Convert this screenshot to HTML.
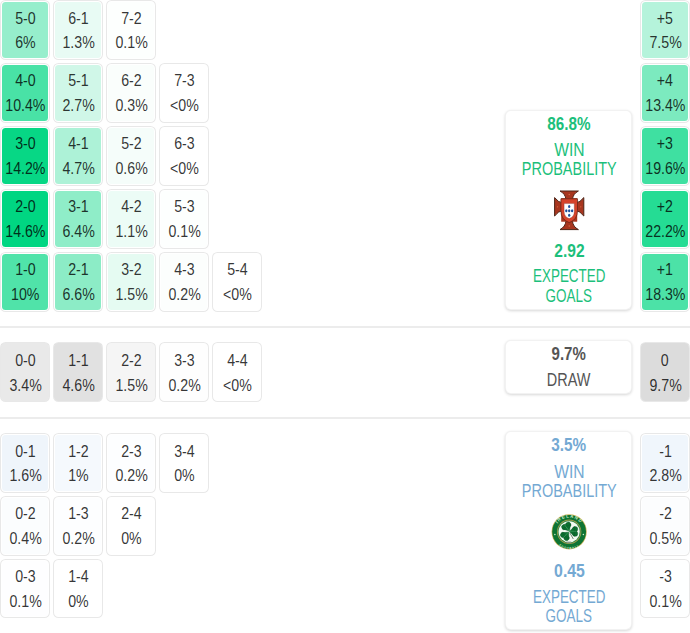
<!DOCTYPE html>
<html><head><meta charset="utf-8"><style>
html,body{margin:0;padding:0;background:#fff;}
body{width:690px;height:633px;position:relative;overflow:hidden;font-family:"Liberation Sans",sans-serif;}
.c{position:absolute;box-sizing:border-box;width:50px;height:59.8px;border:1px solid rgba(0,0,0,0.09);border-radius:5.5px;padding:1px;background-clip:content-box !important;}
.c .t{margin-top:0}
.t{position:absolute;left:0;right:0;text-align:center;white-space:nowrap;font-size:17.2px;line-height:20px;height:20px;color:rgba(0,0,0,0.8);}
.t span{display:inline-block;transform:scaleX(0.825);}
.sep{position:absolute;left:0;width:690px;height:1.5px;background:#ececec;}
.box{position:absolute;box-sizing:border-box;background:#fff;border-radius:6px;border:1px solid rgba(0,0,0,0.05);box-shadow:0 1px 3px rgba(0,0,0,0.16);}
.bt{position:absolute;text-align:center;white-space:nowrap;line-height:20px;height:20px;}
.bt span{display:inline-block;}
</style></head><body>
<div class="c" style="left:0.30px;top:-0.20px;background:rgb(150,238,204)"><div class="t" style="top:6.7px"><span>5-0</span></div><div class="t" style="top:31.3px"><span>6%</span></div></div>
<div class="c" style="left:53.25px;top:-0.20px;background:rgb(232,251,244)"><div class="t" style="top:6.7px"><span>6-1</span></div><div class="t" style="top:31.3px"><span>1.3%</span></div></div>
<div class="c" style="left:106.20px;top:-0.20px;background:rgb(253,255,254)"><div class="t" style="top:6.7px"><span>7-2</span></div><div class="t" style="top:31.3px"><span>0.1%</span></div></div>
<div class="c" style="left:0.30px;top:62.80px;background:rgb(73,226,166)"><div class="t" style="top:6.7px"><span>4-0</span></div><div class="t" style="top:31.3px"><span>10.4%</span></div></div>
<div class="c" style="left:53.25px;top:62.80px;background:rgb(208,247,232)"><div class="t" style="top:6.7px"><span>5-1</span></div><div class="t" style="top:31.3px"><span>2.7%</span></div></div>
<div class="c" style="left:106.20px;top:62.80px;background:rgb(250,254,252)"><div class="t" style="top:6.7px"><span>6-2</span></div><div class="t" style="top:31.3px"><span>0.3%</span></div></div>
<div class="c" style="left:159.15px;top:62.80px;background:rgb(255,255,255)"><div class="t" style="top:6.7px"><span>7-3</span></div><div class="t" style="top:31.3px"><span>&lt;0%</span></div></div>
<div class="c" style="left:0.30px;top:125.80px;background:rgb(7,215,133)"><div class="t" style="top:6.7px"><span>3-0</span></div><div class="t" style="top:31.3px"><span>14.2%</span></div></div>
<div class="c" style="left:53.25px;top:125.80px;background:rgb(173,242,215)"><div class="t" style="top:6.7px"><span>4-1</span></div><div class="t" style="top:31.3px"><span>4.7%</span></div></div>
<div class="c" style="left:106.20px;top:125.80px;background:rgb(245,253,250)"><div class="t" style="top:6.7px"><span>5-2</span></div><div class="t" style="top:31.3px"><span>0.6%</span></div></div>
<div class="c" style="left:159.15px;top:125.80px;background:rgb(255,255,255)"><div class="t" style="top:6.7px"><span>6-3</span></div><div class="t" style="top:31.3px"><span>&lt;0%</span></div></div>
<div class="c" style="left:0.30px;top:188.80px;background:rgb(0,214,130)"><div class="t" style="top:6.7px"><span>2-0</span></div><div class="t" style="top:31.3px"><span>14.6%</span></div></div>
<div class="c" style="left:53.25px;top:188.80px;background:rgb(143,237,200)"><div class="t" style="top:6.7px"><span>3-1</span></div><div class="t" style="top:31.3px"><span>6.4%</span></div></div>
<div class="c" style="left:106.20px;top:188.80px;background:rgb(236,252,246)"><div class="t" style="top:6.7px"><span>4-2</span></div><div class="t" style="top:31.3px"><span>1.1%</span></div></div>
<div class="c" style="left:159.15px;top:188.80px;background:rgb(253,255,254)"><div class="t" style="top:6.7px"><span>5-3</span></div><div class="t" style="top:31.3px"><span>0.1%</span></div></div>
<div class="c" style="left:0.30px;top:251.80px;background:rgb(80,227,169)"><div class="t" style="top:6.7px"><span>1-0</span></div><div class="t" style="top:31.3px"><span>10%</span></div></div>
<div class="c" style="left:53.25px;top:251.80px;background:rgb(140,236,198)"><div class="t" style="top:6.7px"><span>2-1</span></div><div class="t" style="top:31.3px"><span>6.6%</span></div></div>
<div class="c" style="left:106.20px;top:251.80px;background:rgb(229,251,242)"><div class="t" style="top:6.7px"><span>3-2</span></div><div class="t" style="top:31.3px"><span>1.5%</span></div></div>
<div class="c" style="left:159.15px;top:251.80px;background:rgb(252,254,253)"><div class="t" style="top:6.7px"><span>4-3</span></div><div class="t" style="top:31.3px"><span>0.2%</span></div></div>
<div class="c" style="left:212.10px;top:251.80px;background:rgb(255,255,255)"><div class="t" style="top:6.7px"><span>5-4</span></div><div class="t" style="top:31.3px"><span>&lt;0%</span></div></div>
<div class="c" style="left:640.25px;top:-0.20px;background:rgb(181,243,219)"><div class="t" style="top:6.7px"><span>+5</span></div><div class="t" style="top:31.3px"><span>7.5%</span></div></div>
<div class="c" style="left:640.25px;top:62.80px;background:rgb(124,234,191)"><div class="t" style="top:6.7px"><span>+4</span></div><div class="t" style="top:31.3px"><span>13.4%</span></div></div>
<div class="c" style="left:640.25px;top:125.80px;background:rgb(63,224,161)"><div class="t" style="top:6.7px"><span>+3</span></div><div class="t" style="top:31.3px"><span>19.6%</span></div></div>
<div class="c" style="left:640.25px;top:188.80px;background:rgb(37,220,148)"><div class="t" style="top:6.7px"><span>+2</span></div><div class="t" style="top:31.3px"><span>22.2%</span></div></div>
<div class="c" style="left:640.25px;top:251.80px;background:rgb(76,226,167)"><div class="t" style="top:6.7px"><span>+1</span></div><div class="t" style="top:31.3px"><span>18.3%</span></div></div>
<div class="c" style="left:0.30px;top:342.30px;background:rgb(233,233,233);padding:0"><div class="t" style="top:6.7px"><span>0-0</span></div><div class="t" style="top:31.3px"><span>3.4%</span></div></div>
<div class="c" style="left:53.25px;top:342.30px;background:rgb(225,225,225);padding:0"><div class="t" style="top:6.7px"><span>1-1</span></div><div class="t" style="top:31.3px"><span>4.6%</span></div></div>
<div class="c" style="left:106.20px;top:342.30px;background:rgb(245,245,245);padding:0"><div class="t" style="top:6.7px"><span>2-2</span></div><div class="t" style="top:31.3px"><span>1.5%</span></div></div>
<div class="c" style="left:159.15px;top:342.30px;background:rgb(254,254,254);padding:0"><div class="t" style="top:6.7px"><span>3-3</span></div><div class="t" style="top:31.3px"><span>0.2%</span></div></div>
<div class="c" style="left:212.10px;top:342.30px;background:rgb(255,255,255);padding:0"><div class="t" style="top:6.7px"><span>4-4</span></div><div class="t" style="top:31.3px"><span>&lt;0%</span></div></div>
<div class="c" style="left:640.25px;top:342.30px;background:rgb(220,220,220);padding:0"><div class="t" style="top:6.7px"><span>0</span></div><div class="t" style="top:31.3px"><span>9.7%</span></div></div>
<div class="c" style="left:0.30px;top:432.90px;background:rgb(239,245,251)"><div class="t" style="top:6.7px"><span>0-1</span></div><div class="t" style="top:31.3px"><span>1.6%</span></div></div>
<div class="c" style="left:53.25px;top:432.90px;background:rgb(245,249,253)"><div class="t" style="top:6.7px"><span>1-2</span></div><div class="t" style="top:31.3px"><span>1%</span></div></div>
<div class="c" style="left:106.20px;top:432.90px;background:rgb(253,254,255)"><div class="t" style="top:6.7px"><span>2-3</span></div><div class="t" style="top:31.3px"><span>0.2%</span></div></div>
<div class="c" style="left:159.15px;top:432.90px;background:rgb(255,255,255)"><div class="t" style="top:6.7px"><span>3-4</span></div><div class="t" style="top:31.3px"><span>0%</span></div></div>
<div class="c" style="left:0.30px;top:495.75px;background:rgb(251,253,254)"><div class="t" style="top:6.7px"><span>0-2</span></div><div class="t" style="top:31.3px"><span>0.4%</span></div></div>
<div class="c" style="left:53.25px;top:495.75px;background:rgb(253,254,255)"><div class="t" style="top:6.7px"><span>1-3</span></div><div class="t" style="top:31.3px"><span>0.2%</span></div></div>
<div class="c" style="left:106.20px;top:495.75px;background:rgb(255,255,255)"><div class="t" style="top:6.7px"><span>2-4</span></div><div class="t" style="top:31.3px"><span>0%</span></div></div>
<div class="c" style="left:0.30px;top:558.60px;background:rgb(254,254,255)"><div class="t" style="top:6.7px"><span>0-3</span></div><div class="t" style="top:31.3px"><span>0.1%</span></div></div>
<div class="c" style="left:53.25px;top:558.60px;background:rgb(255,255,255)"><div class="t" style="top:6.7px"><span>1-4</span></div><div class="t" style="top:31.3px"><span>0%</span></div></div>
<div class="c" style="left:640.25px;top:432.90px;background:rgb(240,246,252)"><div class="t" style="top:6.7px"><span>-1</span></div><div class="t" style="top:31.3px"><span>2.8%</span></div></div>
<div class="c" style="left:640.25px;top:495.75px;background:rgb(252,253,254)"><div class="t" style="top:6.7px"><span>-2</span></div><div class="t" style="top:31.3px"><span>0.5%</span></div></div>
<div class="c" style="left:640.25px;top:558.60px;background:rgb(254,255,255)"><div class="t" style="top:6.7px"><span>-3</span></div><div class="t" style="top:31.3px"><span>0.1%</span></div></div>
<div class="sep" style="top:326.3px"></div>
<div class="sep" style="top:417.0px"></div>
<div class="box" style="left:505.1px;top:109.7px;width:127.1px;height:200.4px"></div>
<div class="box" style="left:505.1px;top:339.6px;width:127.1px;height:54.6px"></div>
<div class="box" style="left:505.1px;top:430.7px;width:127.1px;height:199.7px"></div>
<div class="bt" style="left:469.1px;width:200px;top:114.09px;color:#1cbf7b;font-weight:bold;font-size:19px"><span style="transform:scaleX(0.803)">86.8%</span></div>
<div class="bt" style="left:469.1px;width:200px;top:140.19px;color:#1cbf7b;font-weight:normal;font-size:19px"><span style="transform:scaleX(0.822)">WIN</span></div>
<div class="bt" style="left:469.1px;width:200px;top:159.29px;color:#1cbf7b;font-weight:normal;font-size:19px"><span style="transform:scaleX(0.762)">PROBABILITY</span></div>
<div class="bt" style="left:469.1px;width:200px;top:240.79px;color:#1cbf7b;font-weight:bold;font-size:19px"><span style="transform:scaleX(0.820)">2.92</span></div>
<div class="bt" style="left:469.1px;width:200px;top:265.99px;color:#1cbf7b;font-weight:normal;font-size:19px"><span style="transform:scaleX(0.706)">EXPECTED</span></div>
<div class="bt" style="left:469.1px;width:200px;top:285.99px;color:#1cbf7b;font-weight:normal;font-size:19px"><span style="transform:scaleX(0.709)">GOALS</span></div>
<div class="bt" style="left:469.1px;width:200px;top:343.89px;color:#555;font-weight:bold;font-size:19px"><span style="transform:scaleX(0.791)">9.7%</span></div>
<div class="bt" style="left:469.1px;width:200px;top:369.99px;color:#555;font-weight:normal;font-size:19px"><span style="transform:scaleX(0.761)">DRAW</span></div>
<div class="bt" style="left:469.1px;width:200px;top:434.69px;color:#74a9d3;font-weight:bold;font-size:19px"><span style="transform:scaleX(0.806)">3.5%</span></div>
<div class="bt" style="left:469.1px;width:200px;top:461.69px;color:#74a9d3;font-weight:normal;font-size:19px"><span style="transform:scaleX(0.822)">WIN</span></div>
<div class="bt" style="left:469.1px;width:200px;top:481.19px;color:#74a9d3;font-weight:normal;font-size:19px"><span style="transform:scaleX(0.762)">PROBABILITY</span></div>
<div class="bt" style="left:469.1px;width:200px;top:561.19px;color:#74a9d3;font-weight:bold;font-size:19px"><span style="transform:scaleX(0.833)">0.45</span></div>
<div class="bt" style="left:469.1px;width:200px;top:586.59px;color:#74a9d3;font-weight:normal;font-size:19px"><span style="transform:scaleX(0.706)">EXPECTED</span></div>
<div class="bt" style="left:469.1px;width:200px;top:605.99px;color:#74a9d3;font-weight:normal;font-size:19px"><span style="transform:scaleX(0.709)">GOALS</span></div>
<svg style="position:absolute;left:550px;top:187px" width="40" height="47" viewBox="0 0 40 47">
<g fill="#a8361f" stroke="#4e2416" stroke-width="1">
<path d="M10,4 H28.4 Q23,6.8 22.4,12.5 H16 Q15.4,6.8 10,4 Z"/>
<path d="M10,42.6 H28.4 Q23,39.8 22.4,34 H16 Q15.4,39.8 10,42.6 Z"/>
<path d="M4.6,10.6 V29 Q8.5,24 12.5,23.5 V16 Q8.5,15.5 4.6,10.6 Z"/>
<path d="M33.8,10.6 V29 Q29.9,24 25.9,23.5 V16 Q29.9,15.5 33.8,10.6 Z"/>
</g>
<rect x="11.2" y="11.2" width="16" height="23.5" fill="#a8361f"/>
<path d="M10.9,11.8 H27.5 V23.5 Q27.5,32.8 19.2,35.6 Q10.9,32.8 10.9,23.5 Z" fill="#d5432a" stroke="#5a2416" stroke-width="0.7"/>
<g fill="#f08a5a" opacity="0.7"><circle cx="19.2" cy="7.5" r="0.7"/><circle cx="19.2" cy="39" r="0.7"/><circle cx="7.6" cy="19.8" r="0.6"/><circle cx="30.8" cy="19.8" r="0.6"/></g>
<path d="M14.1,16.6 H24.3 V24.5 Q24.3,29.8 19.2,31.6 Q14.1,29.8 14.1,24.5 Z" fill="#fff" stroke="#6a2a1a" stroke-width="0.3"/>
<g fill="#1b4f9c">
<ellipse cx="19.2" cy="19.4" rx="1.15" ry="1.5"/>
<ellipse cx="19.2" cy="23.8" rx="1.15" ry="1.5"/>
<ellipse cx="19.2" cy="28.2" rx="1.15" ry="1.5"/>
<ellipse cx="16.3" cy="23.8" rx="1.15" ry="1.5"/>
<ellipse cx="22.1" cy="23.8" rx="1.15" ry="1.5"/>
</g>
</svg>
<svg style="position:absolute;left:548.5px;top:511.8px" width="40" height="40" viewBox="0 0 40 40">
<defs>
<path id="arcT" d="M5.9,19.8 A14.25,14.25 0 0 1 34.4,19.8"/>
<path id="arcB" d="M5.0,19.8 A15.15,15.15 0 0 0 35.3,19.8"/>
<g id="leaf"><circle cx="-1.7" cy="-0.9" r="1.95"/><circle cx="1.7" cy="-0.9" r="1.95"/><path d="M-3.55,-0.4 L3.55,-0.4 L0,3.5 Z"/></g>
</defs>
<circle cx="20.15" cy="19.8" r="17.6" fill="#cdb35a"/>
<circle cx="20.15" cy="19.8" r="16.9" fill="#0e7433"/>
<circle cx="20.15" cy="19.8" r="12.2" fill="#a89a4e"/>
<circle cx="20.15" cy="19.8" r="11.4" fill="#2a8a45"/>
<circle cx="20.15" cy="19.8" r="10.6" fill="#f4faf2"/>
<g fill="#0d6e30" stroke="#0a5a26" stroke-width="0.3">
<use href="#leaf" transform="translate(17.9,14.9) rotate(-31) scale(1.35)"/>
<use href="#leaf" transform="translate(24.9,19.4) rotate(90) scale(1.35)"/>
<use href="#leaf" transform="translate(16.6,23.6) rotate(-139) scale(1.35)"/>
</g>
<g stroke="#5cc07c" stroke-width="0.55" fill="none" opacity="0.85">
<path d="M20.2,19.2 L15.8,13"/><path d="M20.2,19.2 L27.2,19.3"/><path d="M20.2,19.2 L14.6,25.4"/>
</g>
<path d="M20.8,20.8 L24.3,27" stroke="#4a6a50" stroke-width="0.8" fill="none"/>
<rect x="17.6" y="29.6" width="4.6" height="1.5" fill="#8a9a8a"/>
<text font-family="Liberation Sans" font-size="4.4" font-weight="bold" fill="#cfeecf" text-anchor="middle" letter-spacing="1.1"><textPath href="#arcT" startOffset="50%">IRELAND</textPath></text>
<text font-family="Liberation Sans" font-size="2.7" font-weight="bold" fill="#cfeecf" text-anchor="middle" letter-spacing="0.6" dominant-baseline="hanging"><textPath href="#arcB" startOffset="50%">FOOTBALL</textPath></text>
<circle cx="5.9" cy="22.6" r="0.75" fill="#cfeecf"/><circle cx="34.4" cy="22.6" r="0.75" fill="#cfeecf"/>
</svg>
</body></html>
